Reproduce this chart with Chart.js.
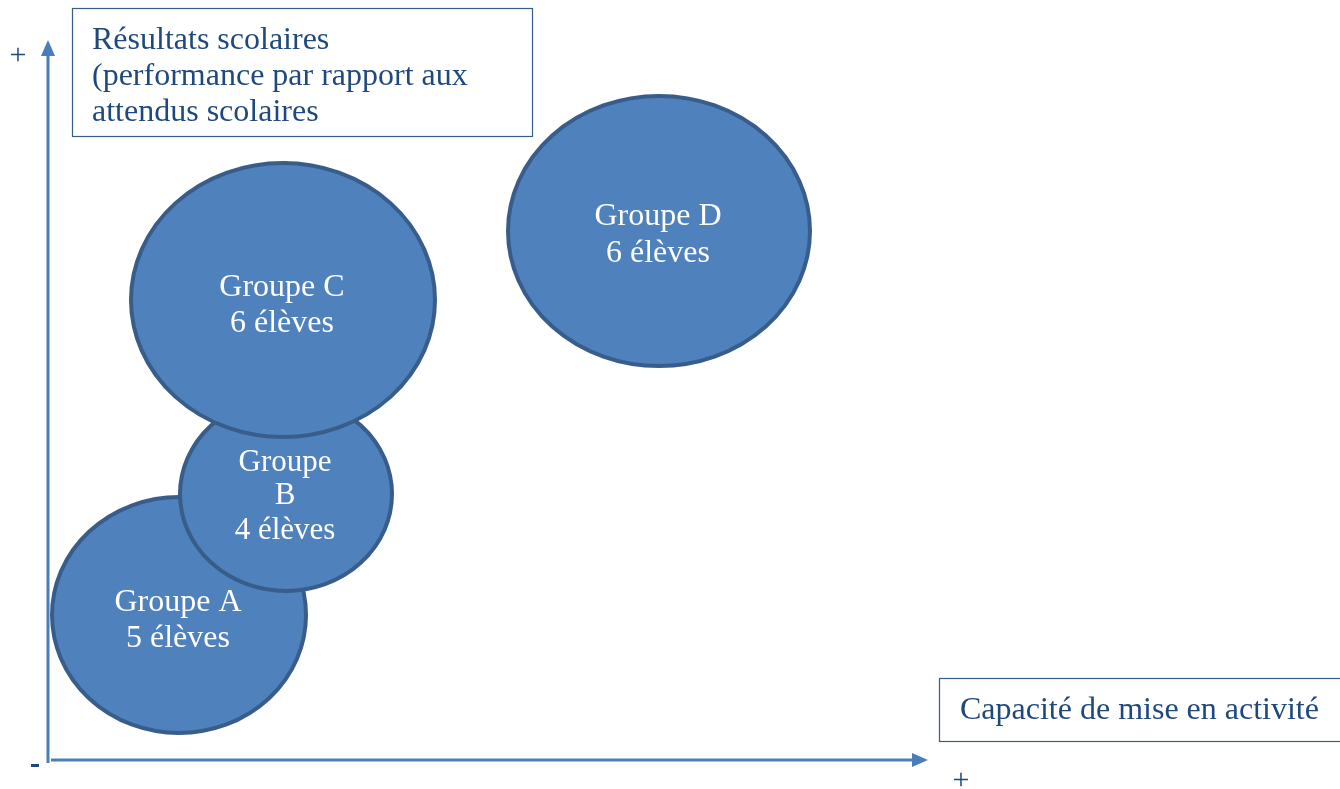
<!DOCTYPE html>
<html><head><meta charset="utf-8">
<script src="https://cdn.jsdelivr.net/npm/chart.js@4.4.0/dist/chart.umd.min.js"></script>
<style>html,body{margin:0;padding:0;background:#fff;}canvas{display:block;}</style>
</head><body>
<canvas id="c" width="1340" height="789"></canvas>
<script>
// Groups (draw order matters: A, B, C overlap)
const groups = ["Groupe A", "Groupe B", "Groupe C", "Groupe D"];
const labelLines = [["Groupe A", "5 élèves"], ["Groupe", "B", "4 élèves"], ["Groupe C", "6 élèves"], ["Groupe D", "6 élèves"]];
const capacite = [13.1, 23.8, 23.5, 61.1];      // x: capacité de mise en activité
const resultats = [14.5, 26.6, 46.0, 52.9];     // y: résultats scolaires
const widthHalf = [12.7, 10.6, 15.2, 15.1];     // half-width in x units
const heightHalf = [11.8, 9.7, 13.7, 13.5];     // half-height in y units
const xAxisTitle = "Capacité de mise en activité";
const yAxisTitle = ["Résultats scolaires", "(performance par rapport aux", "attendus scolaires"];

const FONT = '"Liberation Serif", "Times New Roman", serif';
const FILL = '#4f81bd';
const STROKE = '#385d8a';
const AXIS = '#4a7ebb';
const TXT = '#1f497d';

const data = groups.map((g, i) => ({x: capacite[i], y: resultats[i], r: 0, rx: widthHalf[i], ry: heightHalf[i], lines: labelLines[i]}));

const drawPlugin = {
  id: 'diagram',
  afterDatasetsDraw(chart) {
    const ctx = chart.ctx;
    const xs = chart.scales.x, ys = chart.scales.y;
    const meta = chart.getDatasetMeta(0);
    const x0 = xs.getPixelForValue(0), y0 = ys.getPixelForValue(0);
    const xEnd = xs.getPixelForValue(xs.max), yEnd = ys.getPixelForValue(ys.max);
    ctx.save();
    // axes with arrows
    ctx.strokeStyle = AXIS; ctx.fillStyle = AXIS; ctx.lineWidth = 3;
    ctx.beginPath(); ctx.moveTo(x0, y0 + 3); ctx.lineTo(x0, yEnd + 14); ctx.stroke();
    ctx.beginPath(); ctx.moveTo(x0 - 7, yEnd + 16); ctx.lineTo(x0 + 7, yEnd + 16); ctx.lineTo(x0, yEnd); ctx.closePath(); ctx.fill();
    ctx.beginPath(); ctx.moveTo(x0 + 3, y0); ctx.lineTo(xEnd - 14, y0); ctx.stroke();
    ctx.beginPath(); ctx.moveTo(xEnd - 16, y0 - 7); ctx.lineTo(xEnd - 16, y0 + 7); ctx.lineTo(xEnd, y0); ctx.closePath(); ctx.fill();
    // ellipses
    meta.data.forEach((pt, i) => {
      const d = data[i];
      const rx = xs.getPixelForValue(d.x + d.rx) - pt.x;
      const ry = pt.y - ys.getPixelForValue(d.y + d.ry);
      ctx.beginPath();
      ctx.ellipse(pt.x, pt.y, rx, ry, 0, 0, Math.PI * 2);
      ctx.fillStyle = FILL; ctx.fill();
      ctx.lineWidth = 4; ctx.strokeStyle = STROKE; ctx.stroke();
      ctx.fillStyle = '#ffffff';
      ctx.textAlign = 'center'; ctx.textBaseline = 'middle';
      const small = d.lines.length > 2;
      ctx.font = (small ? 31 : 32) + 'px ' + FONT;
      const offs = small ? [-31, 2, 37] : (i === 3 ? [-14, 23] : [-12, 24]);
      d.lines.forEach((t, k) => ctx.fillText(t, pt.x - 1, pt.y + offs[k]));
    });
    // text boxes
    ctx.fillStyle = '#ffffff'; ctx.strokeStyle = STROKE; ctx.lineWidth = 1.2;
    ctx.fillRect(72.5, 8.5, 460, 128); ctx.strokeRect(72.5, 8.5, 460, 128);
    ctx.fillRect(939.5, 678.5, 402, 63); ctx.strokeRect(939.5, 678.5, 402, 63);
    ctx.fillStyle = TXT; ctx.font = '32px ' + FONT; ctx.textAlign = 'left'; ctx.textBaseline = 'middle';
    yAxisTitle.forEach((t, k) => ctx.fillText(t, 92, 41 + k * 36));
    ctx.fillText(xAxisTitle, 960, 711);
    // + / - markers
    ctx.font = '30px ' + FONT; ctx.textAlign = 'center';
    ctx.fillText('+', 18, 56);
    ctx.fillText('+', 961, 781);
    ctx.fillStyle = '#1f497d'; ctx.fillRect(31, 764, 8, 3);
    ctx.restore();
  }
};

new Chart(document.getElementById('c'), {
  type: 'bubble',
  data: { datasets: [{ data: data, backgroundColor: 'rgba(0,0,0,0)', borderWidth: 0, radius: 0, hoverRadius: 0 }] },
  options: {
    responsive: false, animation: false,
    layout: { padding: { left: 48, right: 412, top: 40, bottom: 29 } },
    plugins: { legend: { display: false }, tooltip: { enabled: false } },
    scales: {
      x: { type: 'linear', min: 0, max: 88, display: false },
      y: { type: 'linear', min: 0, max: 72, display: false }
    }
  },
  plugins: [drawPlugin]
});
</script>
</body></html>
